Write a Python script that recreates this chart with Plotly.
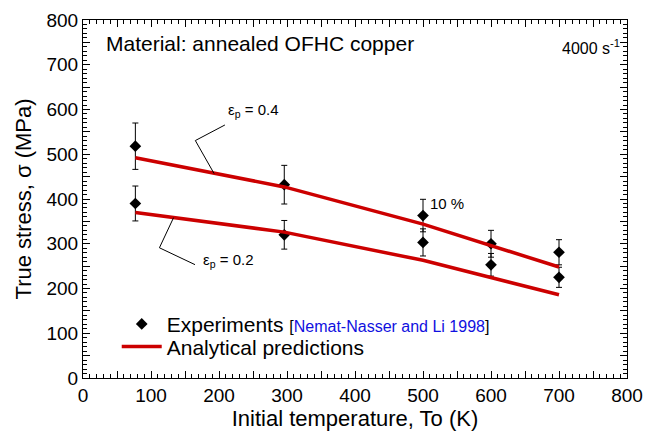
import plotly.graph_objects as go

# Initial temperatures (K)
temps = [77, 296, 500, 600, 700]

# Measured true stress (MPa) at two plastic strains
exp_strain_04 = [518, 432, 363, 300, 281]
exp_strain_02 = [390, 320, 303, 253, 225]

# Model curves (MPa)
model_strain_04 = [492, 427, 344, 297, 248]
model_strain_02 = [370, 326, 263, 224, 186]

x_ticks = list(range(0, 801, 50))
x_tick_text = [str(v) if v % 100 == 0 else "" for v in x_ticks]
y_ticks = list(range(0, 801, 50))
y_tick_text = [str(v) if v % 100 == 0 else "" for v in y_ticks]

FONT = "Liberation Sans, Arial, Helvetica, sans-serif"
RED = "#cc0000"

fig = go.Figure()

exp_x = temps + temps
exp_y = exp_strain_04 + exp_strain_02
fig.add_trace(go.Scatter(
    x=exp_x, y=exp_y, mode="markers",
    marker=dict(symbol="diamond", size=9, color="black"),
    error_y=dict(type="percent", value=10, color="black", thickness=1, width=3),
    name=("Experiments <span style='font-size:16px'>[<span style='color:#1010e0'>"
          "Nemat-Nasser and Li 1998</span>]</span>"),
    showlegend=True,
    legend="legend",
))

fig.add_trace(go.Scatter(
    x=temps, y=model_strain_04, mode="lines",
    line=dict(color=RED, width=3.5),
    name="Analytical predictions", legendgroup="model", showlegend=True,
    legend="legend2",
))
fig.add_trace(go.Scatter(
    x=temps, y=model_strain_02, mode="lines",
    line=dict(color=RED, width=3.5),
    name="Analytical predictions", legendgroup="model", showlegend=False,
    legend="legend2",
))

# Leader lines for the strain labels
leader_04 = [(208.7, 565.4), (165.2, 530.6), (192.8, 456.8)]
leader_02 = [(133.2, 358.4), (112.4, 291.0), (164.7, 253.3)]
for pts in (leader_04, leader_02):
    path = "M " + " L ".join(f"{x},{y}" for x, y in pts)
    fig.add_shape(type="path", path=path, xref="x", yref="y",
                  line=dict(color="black", width=1))

annos = [
    dict(x=210, y=598, text="ε<sub>p</sub> = 0.4", xanchor="left", font_size=15),
    dict(x=174, y=262, text="ε<sub>p</sub> = 0.2", xanchor="left", font_size=15),
    dict(x=508, y=390, text="10 %", xanchor="left", font_size=15),
    dict(x=31, y=748, text="Material: annealed OFHC copper", xanchor="left", font_size=21),
    dict(x=793, y=740, text="4000 s<sup>-1</sup>", xanchor="right", font_size=16),
]
for a in annos:
    fig.add_annotation(x=a["x"], y=a["y"], text=a["text"], xref="x", yref="y",
                       xanchor=a["xanchor"], yanchor="middle", showarrow=False,
                       font=dict(family=FONT, size=a["font_size"], color="black"))

axis_common = dict(
    showgrid=False, zeroline=False, showline=True, linecolor="black", linewidth=1.2,
    mirror="ticks", ticks="inside", ticklen=7, tickwidth=1, tickcolor="black",
    tickfont=dict(family=FONT, size=19, color="black"),
    minor=dict(ticks="inside", ticklen=4, dtick=10, tickwidth=1, tickcolor="black", showgrid=False),
)

fig.update_xaxes(range=[0, 800], tickmode="array", tickvals=x_ticks, ticktext=x_tick_text,
                 title=dict(text="Initial temperature, To (K)", font=dict(family=FONT, size=22, color="black"),
                            standoff=2),
                 **axis_common)
fig.update_yaxes(range=[0, 800], tickmode="array", tickvals=y_ticks, ticktext=y_tick_text,
                 title=dict(text="True stress, σ (MPa)", font=dict(family=FONT, size=22, color="black"),
                            standoff=8),
                 **axis_common)

legend_common = dict(xanchor="left", yanchor="middle", bgcolor="rgba(0,0,0,0)",
                     font=dict(family=FONT, size=21, color="black"), itemwidth=40)
fig.update_layout(
    width=653, height=440,
    margin=dict(l=83, r=19, t=10, b=62),
    plot_bgcolor="white", paper_bgcolor="white",
    font=dict(family=FONT, color="black"),
    showlegend=True,
    legend=dict(x=0.062, y=0.15, **legend_common),
    legend2=dict(x=0.062, y=0.087, **legend_common),
)

fig.write_html("out.html")
